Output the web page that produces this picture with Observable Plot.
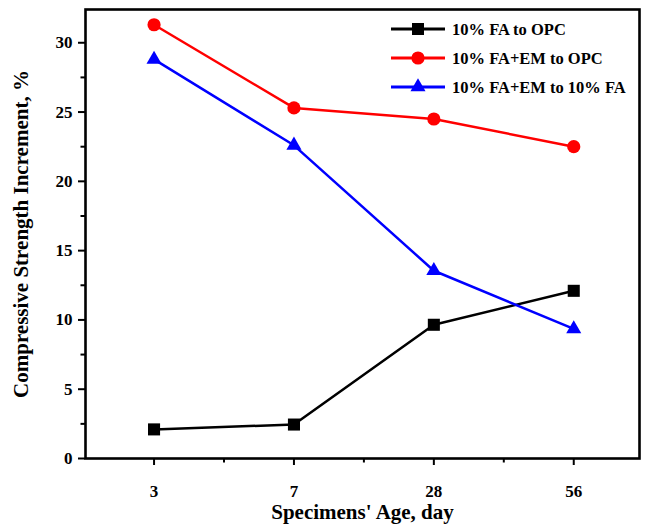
<!DOCTYPE html>
<html>
<head>
<meta charset="utf-8">
<script src="https://cdn.jsdelivr.net/npm/d3@7"></script>
<script src="https://cdn.jsdelivr.net/npm/@observablehq/plot@0.6"></script>
<style>
  html, body { margin: 0; padding: 0; background: #fff; }
  #chart { position: relative; width: 645px; height: 528px; }
  #chart svg { font-family: "Liberation Serif", "Times New Roman", serif; font-weight: bold; }
</style>
</head>
<body>
<div id="chart"></div>
<script>
const days = ["3", "7", "28", "56"];
const seriesNames = ["10% FA to OPC", "10% FA+EM to OPC", "10% FA+EM to 10% FA"];
const faToOpc = [2.1, 2.45, 9.65, 12.1];
const faEmToOpc = [31.3, 25.3, 24.5, 22.5];
const faEmToFa = [28.8, 22.6, 13.55, 9.35];
const yTicks = [0, 5, 10, 15, 20, 25, 30];
const yMinor = [2.5, 7.5, 12.5, 17.5, 22.5, 27.5];
const xMinor = [0.5, 1.5, 2.5];

const colors = ["#000000", "#ff0000", "#0000ff"];
const symbols = ["square", "circle", "triangle"];
const radii = [6.8, 6.6, 5.6];

const valuesBySeries = [faToOpc, faEmToOpc, faEmToFa];
const rows = [];
valuesBySeries.forEach((vals, s) => vals.forEach((v, i) => rows.push({i, day: days[i], value: v, series: seriesNames[s], r: radii[s]})));

const plot = Plot.plot({
  width: 645,
  height: 528,
  marginLeft: 85,
  marginRight: 6,
  marginTop: 9,
  marginBottom: 70,
  x: {type: "linear", domain: [-0.49, 3.47]},
  y: {domain: [0, 32.4]},
  color: {domain: seriesNames, range: colors},
  symbol: {domain: seriesNames, range: symbols},
  r: {type: "identity"},
  marks: [
    Plot.axisY({ticks: yTicks, tickSize: 7, tickPadding: 6, strokeWidth: 2, fontSize: 17, label: "Compressive Strength Increment, %", labelAnchor: "center", labelArrow: "none", labelOffset: 72}),
    Plot.axisY({ticks: yMinor, tickSize: 4.5, strokeWidth: 2, text: null, label: null}),
    Plot.axisX({ticks: [0, 1, 2, 3], tickFormat: i => days[i], tickSize: 7, tickPadding: 19, strokeWidth: 2, fontSize: 17, label: "Specimens' Age, day", labelAnchor: "center", labelArrow: "none", labelOffset: 60}),
    Plot.axisX({ticks: xMinor, tickSize: 4.5, strokeWidth: 2, text: null, label: null}),
    Plot.line(rows, {x: "i", y: "value", z: "series", stroke: "series", strokeWidth: 2.5}),
    Plot.dot(rows, {x: "i", y: "value", fill: "series", symbol: "series", r: "r", stroke: "none"}),
    Plot.frame({stroke: "#000", strokeWidth: 2.6})
  ]
});

// style the axis labels
d3.select(plot).selectAll("g[aria-label='y-axis label'] text, g[aria-label='x-axis label'] text").attr("font-size", 21);

// legend inside the frame (top right)
const svg = d3.select(plot);
const leg = svg.append("g").attr("aria-label", "legend").attr("text-anchor", "start");
const lx0 = 391, lx1 = 445, ly0 = 29, ldy = 29;
seriesNames.forEach((name, s) => {
  const g = leg.append("g").attr("transform", `translate(0,${ly0 + s * ldy})`);
  g.append("line").attr("x1", lx0).attr("x2", lx1).attr("y1", 0).attr("y2", 0).attr("stroke", colors[s]).attr("stroke-width", 2.8);
  const sym = {square: d3.symbolSquare, circle: d3.symbolCircle, triangle: d3.symbolTriangle}[symbols[s]];
  g.append("path").attr("d", d3.symbol(sym, Math.PI * radii[s] * radii[s])()).attr("transform", `translate(${(lx0 + lx1) / 2},0)`).attr("fill", colors[s]);
  g.append("text").attr("x", 452).attr("y", 0).attr("dy", "0.35em").attr("font-size", 16.5).attr("fill", "#000").text(name);
});

document.getElementById("chart").appendChild(plot);
</script>
</body>
</html>
